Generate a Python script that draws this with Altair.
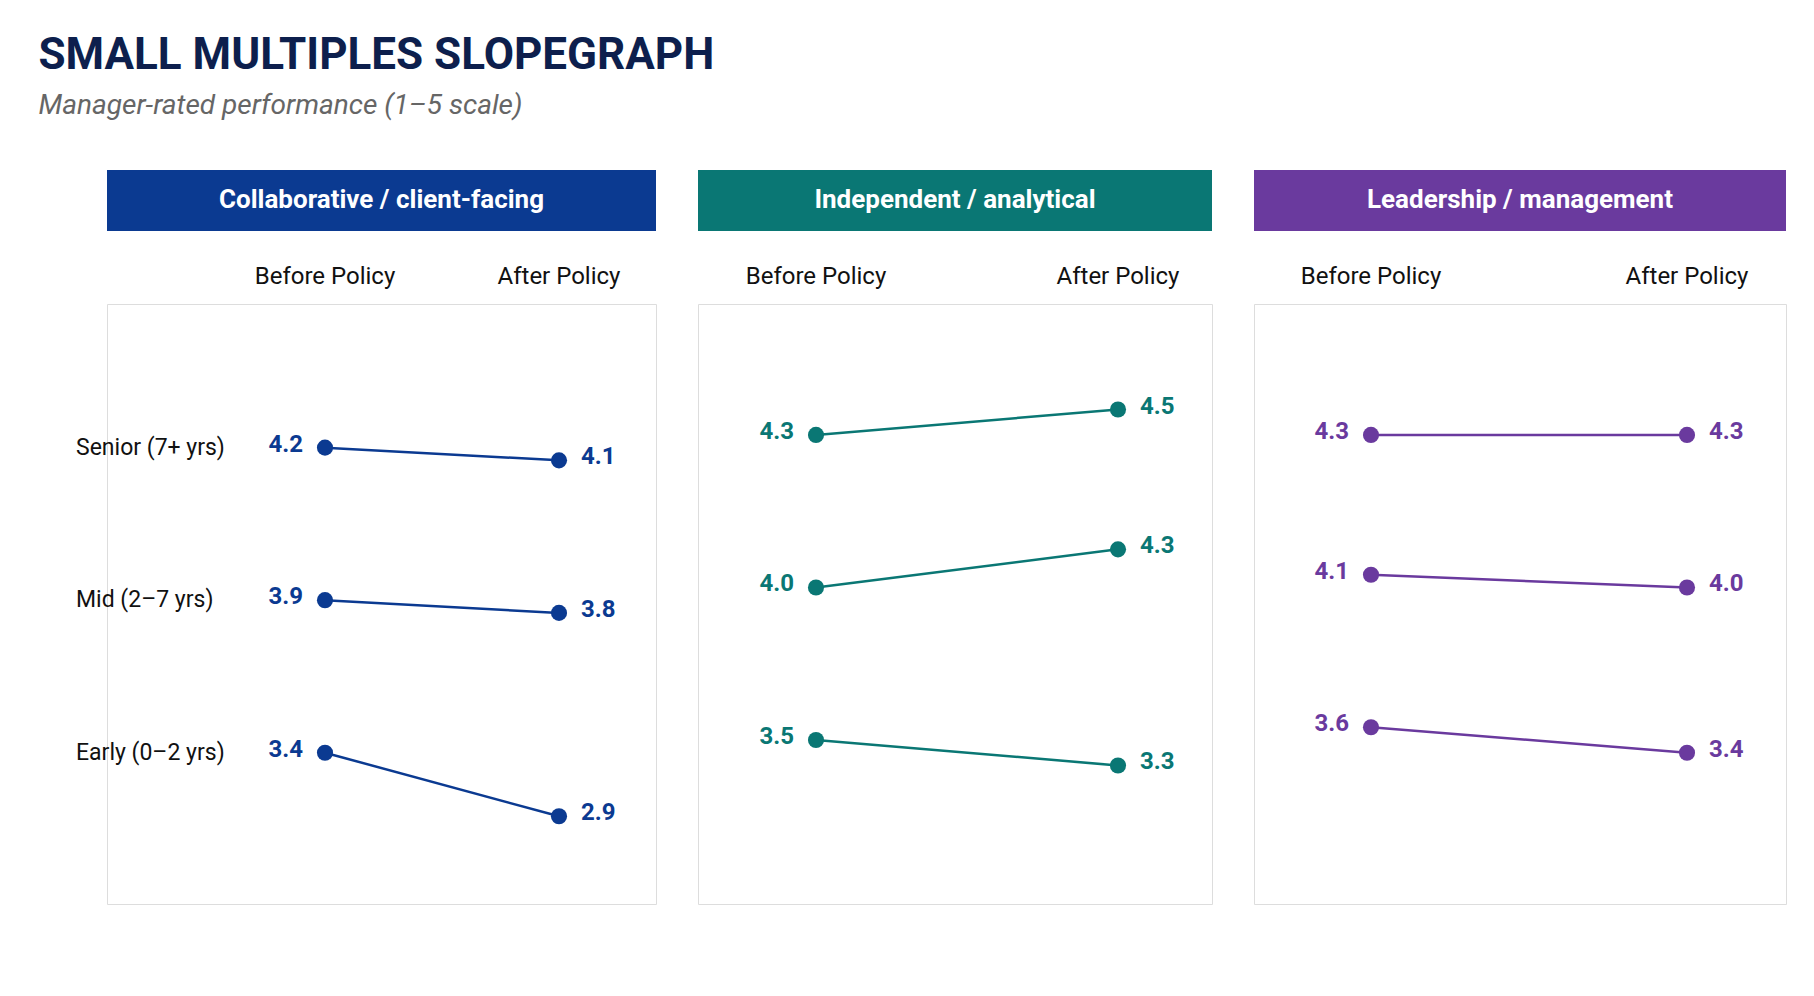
import altair as alt
import pandas as pd

FONT = "Roboto, sans-serif"

groups = ["Collaborative / client-facing", "Independent / analytical", "Leadership / management"]
colors = ["#0b3a91", "#0a7774", "#6a3a9e"]
levels = ["Senior (7+ yrs)", "Mid (2–7 yrs)", "Early (0–2 yrs)"]
level_offsets = [0.0, 0.9, 1.6]
before_vals = [[4.2, 3.9, 3.4], [4.3, 4.0, 3.5], [4.3, 4.1, 3.6]]
after_vals = [[4.1, 3.8, 2.9], [4.5, 4.3, 3.3], [4.3, 4.0, 3.4]]
periods = ["Before Policy", "After Policy"]

widths = [549, 514, 532]
x_ranges = [[218, 452], [118, 420], [117, 433]]
H = 600


def panel(i):
    rows = []
    for j, lvl in enumerate(levels):
        for p, v in zip(periods, [before_vals[i][j], after_vals[i][j]]):
            rows.append({"level": lvl, "period": p, "value": v,
                         "ypos": v - level_offsets[j], "label": f"{v:.1f}"})
    df = pd.DataFrame(rows)
    c = colors[i]
    x = alt.X("period:N", sort=periods, axis=None,
              scale=alt.Scale(type="point", domain=periods, range=x_ranges[i], padding=0))
    y = alt.Y("ypos:Q", axis=None, scale=alt.Scale(domain=[0.61, 5.33], nice=False, zero=False))
    base = alt.Chart(df).encode(x=x, y=y)
    line = base.mark_line(color=c, strokeWidth=2.5).encode(detail="level:N")
    pts = base.mark_circle(color=c, size=260, opacity=1)
    lb = base.transform_filter("datum.period == 'Before Policy'").mark_text(
        color=c, font=FONT, fontSize=24, fontWeight="bold", align="right", dx=-22, dy=-3
    ).encode(text="label:N")
    la = base.transform_filter("datum.period == 'After Policy'").mark_text(
        color=c, font=FONT, fontSize=24, fontWeight="bold", align="left", dx=22, dy=-3
    ).encode(text="label:N")
    hdr_df = pd.DataFrame({"t": [groups[i]]})
    hdr = alt.Chart(hdr_df).mark_rect(color=c).encode(
        x=alt.value(0), x2=alt.value(widths[i]), y=alt.value(-134), y2=alt.value(-73))
    hdr_t = alt.Chart(hdr_df).mark_text(
        color="white", font=FONT, fontSize=26, fontWeight="bold"
    ).encode(x=alt.value(widths[i] / 2), y=alt.value(-104), text="t:N")
    col_df = pd.DataFrame({"period": periods})
    col_t = alt.Chart(col_df).mark_text(font=FONT, fontSize=24, color="#111").encode(
        x=x, y=alt.value(-27), text="period:N")
    layers = [line, pts, lb, la, hdr, hdr_t, col_t]
    if i == 0:
        lvl_df = pd.DataFrame({"level": levels,
                               "ypos": [before_vals[0][k] - level_offsets[k] for k in range(3)]})
        lvl_t = alt.Chart(lvl_df).mark_text(
            font=FONT, fontSize=23, color="#111", align="left"
        ).encode(x=alt.value(-31), y=y, text="level:N")
        layers.append(lvl_t)
    return alt.layer(*layers).properties(width=widths[i], height=H)


chart = alt.hconcat(*[panel(i) for i in range(3)], spacing=40).properties(
    title=alt.TitleParams(
        "SMALL MULTIPLES SLOPEGRAPH",
        subtitle="Manager-rated performance (1–5 scale)",
        anchor="start", font=FONT, fontSize=44, fontWeight="bold", color="#0d1f4d",
        subtitleFont=FONT, subtitleFontSize=28, subtitleFontStyle="italic",
        subtitleColor="#666", subtitlePadding=14, offset=50, dx=-37
    ),
    padding={"left": 30, "top": 25, "right": 10, "bottom": 10}
).configure_view(strokeWidth=0, stroke="transparent").configure(background="white")

chart.save("out.html", embed_options={"renderer": "svg", "actions": False})
